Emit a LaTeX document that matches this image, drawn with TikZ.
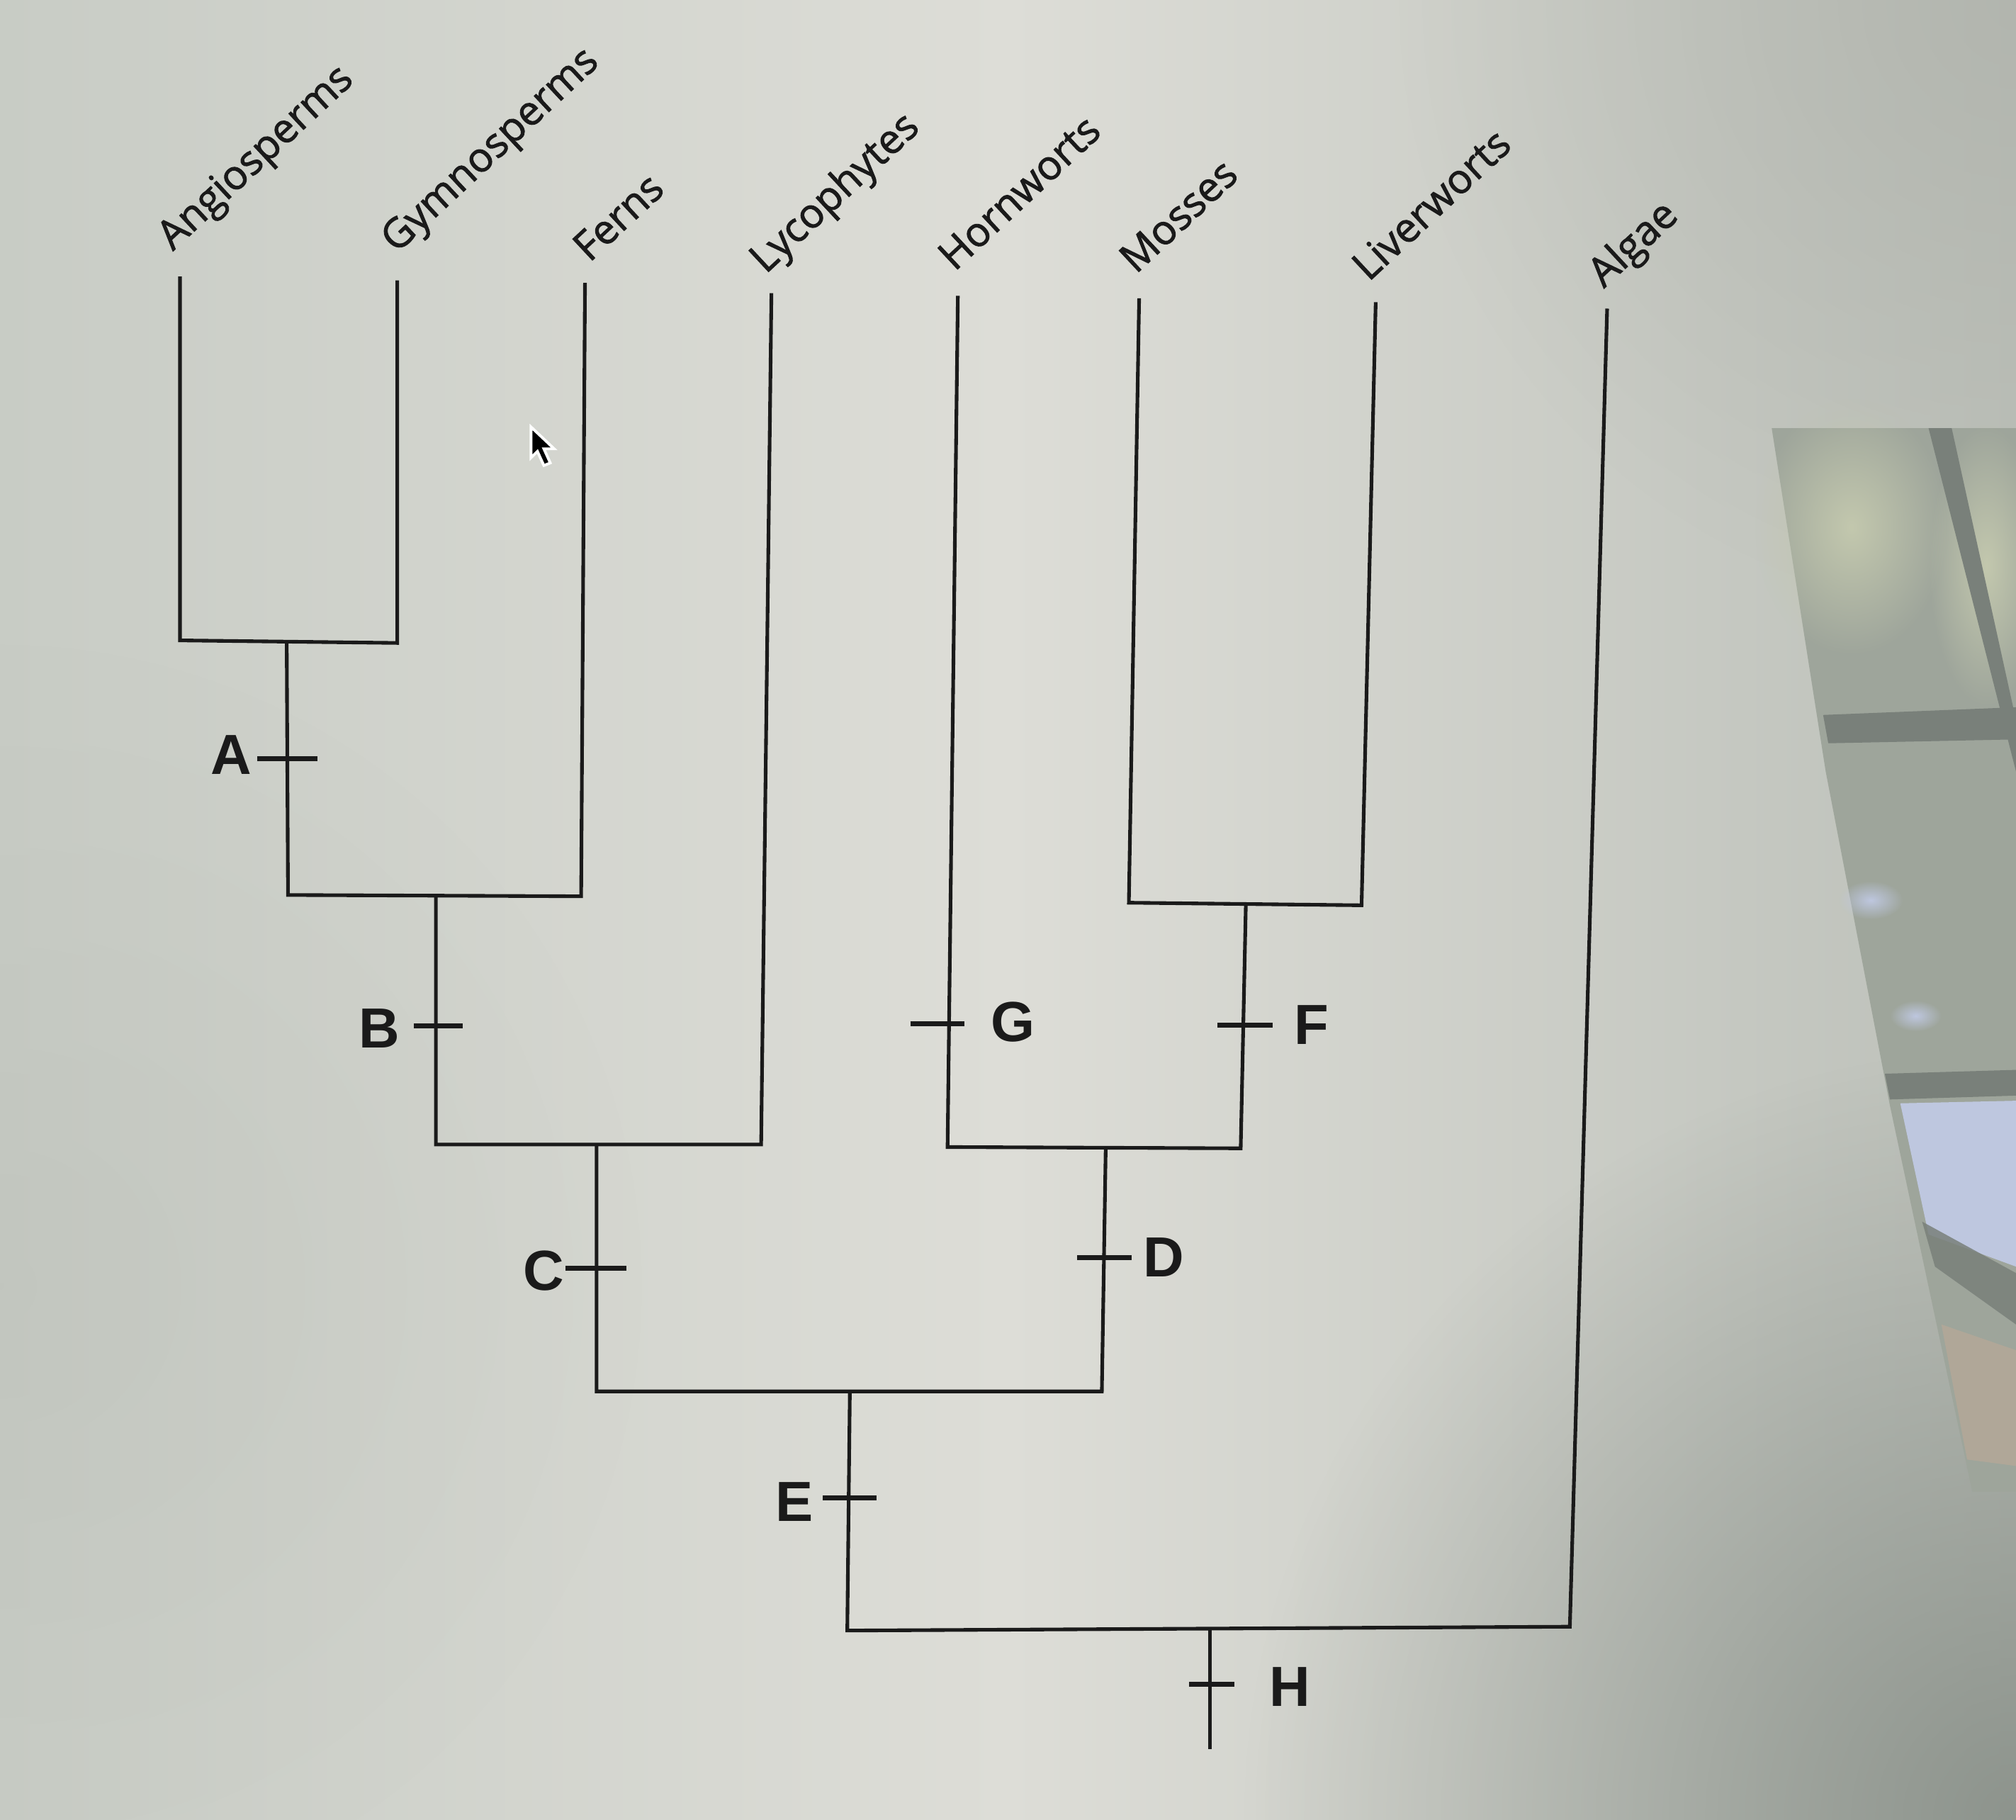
\documentclass[tikz,border=0pt]{standalone}
\usepackage{fontspec}
\usetikzlibrary{fadings}
\newfontfamily\taxfamily{Open Sans}[FakeBold=1.6]
\newfontfamily\cladefamily{Liberation Sans}
\newcommand\taxfont{\taxfamily\fontsize{9.0}{11}\selectfont}
\newcommand\cladefont{\cladefamily\bfseries\fontsize{12.5}{14}\selectfont}
\definecolor{linec}{HTML}{1A1A1A}
\definecolor{bgleft}{HTML}{C8CCC5}
\definecolor{bgmid}{HTML}{DDDDD7}
\definecolor{bgright}{HTML}{BCC0B9}
\definecolor{darkbr}{HTML}{858C85}
\definecolor{darktr}{HTML}{AEB1AA}
\definecolor{refl}{HTML}{9EA59B}
\definecolor{frame}{HTML}{79807A}
\definecolor{sky}{HTML}{BEC7DF}
\definecolor{leaf}{HTML}{C3C8AE}
\definecolor{bark}{HTML}{B3A898}
\tikzfading[name=softspot, inner color=transparent!0, outer color=transparent!100]
\begin{document}
\begin{tikzpicture}[x=0.01cm,y=-0.01cm,
  br/.style={line width=0.8pt, draw=linec},
  tickmark/.style={line width=1.1pt, draw=linec},
  taxon/.style={font=\taxfont, text=linec, rotate=43, anchor=base west, inner sep=0pt},
  clade/.style={font=\cladefont, text=linec, inner sep=0pt}]
% background (photo of a screen)
\useasboundingbox (0,0) rectangle (1568,1415);
\shade[left color=bgleft, right color=bgright, middle color=bgmid] (0,0) rectangle (1568,1415);
\fill[darkbr, path fading=softspot, fill opacity=0.85] (1568,1415) circle (600);
\fill[darktr, path fading=softspot, fill opacity=0.7] (1568,0) circle (480);
\fill[bgleft!90!black, path fading=softspot, fill opacity=0.3] (0,1000) circle (500);
% window reflection on the right
\fill[refl] (1378,333) -- (1568,333) -- (1568,1160) -- (1534,1160) -- (1470,860) -- (1420,600) -- cycle;
\fill[leaf, path fading=softspot] (1440,410) ellipse (75 and 100);
\fill[leaf, path fading=softspot] (1545,440) ellipse (45 and 110);
\fill[frame] (1500,333) -- (1518,333) -- (1568,560) -- (1568,600) -- cycle;
\fill[frame] (1418,556) -- (1568,550) -- (1568,575) -- (1422,578) -- cycle;
\fill[sky, path fading=softspot] (1455,700) ellipse (25 and 15);
\fill[sky, path fading=softspot] (1490,790) ellipse (20 and 12);
\fill[frame] (1466,835) -- (1568,832) -- (1568,852) -- (1470,855) -- cycle;
\fill[sky] (1478,858) -- (1568,856) -- (1568,985) -- (1500,960) -- cycle;
\fill[frame, opacity=0.85] (1495,950) -- (1568,990) -- (1568,1030) -- (1505,985) -- cycle;
\fill[bark, opacity=0.9] (1510,1030) -- (1568,1050) -- (1568,1140) -- (1530,1135) -- cycle;
% cursor
\fill[black, draw=white, line width=0.6pt] (413,332) -- (413,356) -- (418,351) -- (423,362) -- (428,360) -- (423,349) -- (431,349) -- cycle;
% coordinates
\coordinate (tAng) at (140,215); \coordinate (bAng) at (140,498);
\coordinate (tGym) at (309,218); \coordinate (bGym) at (309,500);
\coordinate (tFer) at (455,220); \coordinate (bFer) at (452,697);
\coordinate (tLyc) at (600,228); \coordinate (bLyc) at (592,890);
\coordinate (tHor) at (745,230); \coordinate (bHor) at (737,892);
\coordinate (tMos) at (886,232); \coordinate (bMos) at (878,702);
\coordinate (tLiv) at (1070,235); \coordinate (bLiv) at (1059,704);
\coordinate (tAlg) at (1250,240); \coordinate (bAlg) at (1221,1265);
\coordinate (nA) at (223,499); \coordinate (bA) at (224,696);
\coordinate (nB) at (339,696); \coordinate (bB) at (339,890);
\coordinate (nC) at (464,890); \coordinate (bC) at (464,1082);
\coordinate (nF) at (969,703); \coordinate (bF) at (965,893);
\coordinate (nD) at (860,893); \coordinate (bD) at (857,1082);
\coordinate (nE) at (661,1082); \coordinate (bE) at (659,1268);
\coordinate (nH) at (941,1267); \coordinate (bH) at (941,1360);
% tick positions
\coordinate (kA) at (223,590);
\coordinate (kB) at (339,798);
\coordinate (kC) at (464,986);
\coordinate (kG) at (739,796);
\coordinate (kF) at (967,797);
\coordinate (kD) at (858,978);
\coordinate (kE) at (660,1165);
\coordinate (kH) at (941,1310);
% branches
\draw[br] (tAng) -- (bAng) -- (bGym) -- (tGym);
\draw[br] (nA) -- (bA) -- (bFer) -- (tFer);
\draw[br] (nB) -- (bB) -- (bLyc) -- (tLyc);
\draw[br] (tMos) -- (bMos) -- (bLiv) -- (tLiv);
\draw[br] (nF) -- (bF) -- (bHor) -- (tHor);
\draw[br] (nC) -- (bC) -- (bD) -- (nD);
\draw[br] (nE) -- (bE) -- (bAlg) -- (tAlg);
\draw[br] (nH) -- (bH);
% ticks
\draw[tickmark] (kA) ++(-23,0) -- ++(47,0);
\draw[tickmark] (kB) ++(-17,0) -- ++(38,0);
\draw[tickmark] (kC) ++(-24,0) -- ++(47,0);
\draw[tickmark] (kG) ++(-31,0) -- ++(42,0);
\draw[tickmark] (kF) ++(-20,0) -- ++(43,0);
\draw[tickmark] (kD) ++(-20,0) -- ++(42,0);
\draw[tickmark] (kE) ++(-20,0) -- ++(42,0);
\draw[tickmark] (kH) ++(-16,0) -- ++(35,0);
% clade labels
\node[clade] (lA) at (180,587) {A};
\node[clade] (lB) at (295,800) {B};
\node[clade] (lC) at (423,988) {C};
\node[clade] (lG) at (788,795) {G};
\node[clade] (lF) at (1020,797) {F};
\node[clade] (lD) at (905,978) {D};
\node[clade] (lE) at (618,1168) {E};
\node[clade] (lH) at (1003,1312) {H};
% taxa
\node[taxon] (xAng) at (134,196) {Angiosperms};
\node[taxon] (xGym) at (308,198) {Gymnosperms};
\node[taxon] (xFer) at (458,205) {Ferns};
\node[taxon] (xLyc) at (595,214) {Lycophytes};
\node[taxon] (xHor) at (742,212) {Hornworts};
\node[taxon] (xMos) at (883,214) {Mosses};
\node[taxon] (xLiv) at (1064,220) {Liverworts};
\node[taxon] (xAlg) at (1247,225) {Algae};
\end{tikzpicture}
\end{document}
